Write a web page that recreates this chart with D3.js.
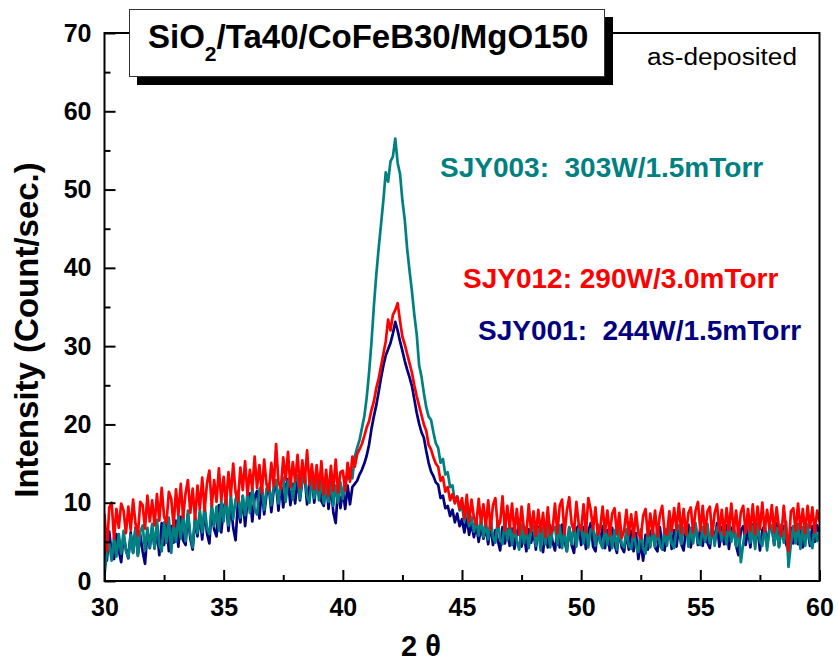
<!DOCTYPE html>
<html>
<head>
<meta charset="utf-8">
<script src="https://cdn.jsdelivr.net/npm/d3@7"></script>
<style>
  html, body { margin: 0; padding: 0; background: #fff; }
  svg { display: block; }
  text { font-family: "Liberation Sans", Arial, Helvetica, sans-serif; }
</style>
</head>
<body>
<svg id="chart" width="838" height="664"></svg>
<script>
// XRD scans, 2θ = 30°..60°, step 0.1°
const twoThetaStart = 30;
const twoThetaStep = 0.1;

// SJY001: 244W/1.5mTorr
const sjy001 = [
  5.6, 2.6, 6.3, 3.5, 2.8, 6.0, 3.9, 2.4, 5.8, 4.1,
  2.9, 6.2, 3.6, 6.8, 3.3, 5.9, 3.8, 2.2, 6.3, 4.2,
  7.0, 4.2, 6.5, 3.3, 7.4, 4.6, 7.9, 3.8, 7.0, 4.9,
  7.7, 4.4, 8.2, 5.2, 4.6, 8.5, 5.4, 4.0, 8.0, 5.7,
  8.5, 5.3, 9.1, 6.1, 4.8, 9.4, 6.6, 5.7, 9.7, 6.2,
  9.3, 10.4, 6.4, 9.9, 6.8, 5.2, 10.1, 7.5, 10.8, 7.0,
  10.3, 11.2, 7.6, 10.7, 11.5, 8.0, 11.9, 8.5, 11.1, 12.0,
  8.8, 11.6, 12.3, 9.0, 12.6, 9.4, 12.1, 13.0, 9.7, 12.4,
  9.9, 13.1, 10.3, 12.8, 13.4, 9.8, 12.6, 13.2, 10.0, 12.7,
  13.0, 10.2, 9.6, 12.9, 9.2, 12.5, 8.8, 7.4, 11.9, 9.3,
  11.6, 9.2, 12.2, 9.8, 12.0, 12.4, 12.8, 13.6, 14.2, 15.0,
  16.0, 17.4, 19.4, 21.0, 22.4, 24.1, 25.9, 27.5, 28.8, 29.6,
  30.4, 31.6, 33.1, 32.0, 30.6, 29.4, 28.1, 27.0, 26.0, 24.9,
  23.2, 21.5, 20.1, 19.0, 18.3, 16.6, 15.1, 14.0, 13.4, 12.6,
  12.3, 10.6, 10.9, 9.3, 9.6, 8.3, 9.1, 7.5, 8.6, 7.0,
  7.9, 6.2, 8.1, 5.9, 7.4, 5.6, 7.2, 5.0, 6.9, 5.4,
  6.8, 4.7, 7.3, 4.6, 6.5, 5.2, 3.9, 6.9, 4.8, 6.6,
  4.5, 6.7, 4.1, 6.2, 7.0, 4.4, 6.1, 3.8, 6.6, 4.9,
  6.3, 4.0, 6.9, 4.6, 3.7, 6.5, 4.3, 7.1, 5.0, 3.9,
  6.4, 4.3, 7.2, 5.1, 3.8, 6.8, 4.6, 3.6, 6.7, 7.1,
  4.6, 6.9, 4.1, 6.3, 7.4, 4.4, 3.8, 6.7, 4.9, 7.0,
  4.2, 6.5, 3.9, 6.8, 4.7, 3.6, 6.6, 4.3, 3.7, 6.2,
  4.0, 6.4, 3.8, 6.1, 2.8, 4.9, 2.6, 5.9, 4.0, 6.3,
  6.6, 4.3, 3.8, 6.9, 4.5, 3.9, 6.4, 7.0, 4.1, 6.5,
  4.4, 6.9, 4.7, 3.9, 6.7, 7.2, 4.3, 6.6, 7.1, 4.6,
  6.8, 4.5, 7.3, 4.9, 4.2, 7.0, 5.0, 7.4, 4.4, 6.9,
  4.7, 7.1, 4.1, 6.8, 6.9, 4.5, 3.3, 6.5, 7.0, 4.6,
  6.6, 4.3, 7.2, 4.8, 6.9, 3.9, 6.5, 7.1, 4.5, 6.7,
  6.9, 4.6, 7.4, 4.4, 6.7, 7.0, 4.7, 3.9, 6.8, 4.8,
  7.2, 4.7, 6.9, 4.3, 7.3, 6.7, 4.5, 7.0, 5.0, 7.1,
  6.2
];

// SJY003: 303W/1.5mTorr
const sjy003 = [
  0.8, 3.6, 4.8, 2.6, 5.6, 3.1, 6.0, 3.5, 6.4, 3.8,
  3.0, 5.9, 3.6, 6.7, 3.2, 6.3, 7.1, 3.9, 6.8, 4.3,
  7.3, 4.1, 7.8, 4.6, 3.8, 7.5, 4.9, 8.1, 3.6, 7.6,
  5.0, 8.3, 5.4, 8.7, 5.1, 9.0, 5.9, 4.3, 8.4, 6.1,
  9.1, 6.2, 9.7, 6.7, 6.0, 9.9, 7.0, 9.5, 6.4, 10.3,
  7.6, 10.6, 7.1, 11.1, 7.9, 10.4, 11.5, 8.1, 10.9, 8.4,
  11.3, 8.7, 11.9, 9.2, 8.5, 11.7, 12.2, 9.1, 11.8, 12.4,
  9.7, 12.1, 12.9, 9.9, 12.5, 13.2, 10.1, 12.7, 13.4, 10.4,
  12.8, 13.5, 10.5, 13.1, 13.8, 10.8, 10.0, 13.3, 10.6, 13.0,
  10.3, 13.2, 9.9, 12.5, 10.1, 12.9, 9.6, 12.2, 10.0, 12.6,
  10.5, 13.3, 13.0, 14.4, 13.1, 15.9, 17.0, 18.0, 19.5, 21.0,
  23.4, 26.6, 30.4, 35.0, 39.0, 42.4, 45.5, 48.6, 52.2, 51.0,
  53.6, 54.2, 56.5, 53.4, 52.0, 48.6, 46.1, 42.4, 39.6, 37.0,
  34.0, 31.5, 27.6, 26.1, 24.0, 22.2, 21.0, 20.6, 19.0, 17.6,
  17.0, 15.1, 15.6, 13.6, 13.9, 12.0, 12.2, 10.2, 10.8, 9.0,
  9.6, 7.6, 9.3, 7.0, 8.2, 6.3, 8.0, 5.8, 7.9, 5.6,
  7.6, 5.3, 8.1, 5.6, 4.9, 7.7, 5.4, 4.7, 7.8, 5.2,
  7.4, 4.6, 7.1, 5.1, 4.0, 7.2, 4.8, 6.9, 4.2, 6.6,
  7.0, 4.5, 6.7, 3.9, 6.8, 4.7, 7.2, 4.3, 6.5, 6.9,
  4.6, 7.1, 4.2, 6.6, 3.8, 6.9, 4.7, 7.3, 4.4, 6.7,
  7.0, 4.8, 7.4, 4.3, 6.6, 6.8, 4.5, 7.2, 4.9, 4.2,
  6.7, 4.6, 7.0, 4.2, 6.5, 4.0, 6.8, 4.7, 4.3, 6.6,
  4.5, 4.1, 6.4, 4.4, 3.7, 6.6, 4.2, 3.5, 6.3, 4.3,
  6.5, 4.4, 6.9, 4.6, 4.0, 6.7, 4.5, 7.0, 4.8, 4.2,
  6.6, 7.1, 4.7, 6.7, 7.2, 4.4, 6.8, 4.8, 7.4, 4.9,
  4.6, 6.9, 5.0, 7.3, 4.8, 7.0, 4.5, 6.8, 7.2, 5.1,
  7.1, 4.7, 7.5, 5.0, 6.9, 4.4, 7.2, 2.4, 4.8, 6.8,
  7.3, 4.9, 7.0, 4.1, 7.4, 5.1, 4.5, 6.9, 3.9, 6.6,
  7.1, 4.6, 6.8, 4.3, 7.2, 4.9, 7.6, 1.8, 4.7, 7.0,
  4.8, 7.3, 4.1, 6.9, 4.5, 7.2, 5.0, 4.2, 7.0, 5.1,
  6.3
];

// SJY012: 290W/3.0mTorr
const sjy012 = [
  8.6, 3.8, 9.4, 10.0, 5.4, 9.2, 6.8, 9.9, 9.0, 6.1,
  9.5, 6.5, 10.4, 7.3, 5.8, 10.1, 9.7, 6.7, 10.9, 7.6,
  10.3, 7.1, 11.1, 7.7, 11.9, 8.2, 7.4, 11.4, 10.5, 7.0,
  11.7, 8.4, 12.4, 8.1, 11.2, 12.9, 8.7, 11.8, 7.9, 12.2,
  9.2, 13.2, 9.0, 12.5, 14.1, 9.6, 12.9, 10.1, 14.4, 10.3,
  13.3, 9.8, 13.9, 10.9, 15.0, 11.3, 10.1, 14.5, 11.6, 15.3,
  11.0, 14.2, 11.7, 15.9, 11.9, 14.8, 11.2, 15.5, 12.3, 11.5,
  15.1, 12.1, 17.5, 12.6, 11.8, 15.8, 12.9, 16.5, 12.0, 15.2,
  12.7, 16.1, 11.9, 15.4, 12.5, 16.7, 12.2, 14.9, 11.7, 14.8,
  11.6, 15.3, 11.1, 14.2, 10.9, 14.7, 11.5, 15.5, 11.3, 13.9,
  14.1, 11.5, 15.1, 12.7, 15.9, 14.6, 16.2, 16.8, 17.5, 18.5,
  19.6, 20.4, 21.8, 22.9, 24.6, 25.8, 27.4, 29.0, 30.6, 33.4,
  32.0, 34.0, 34.6, 35.5, 33.2, 31.2, 30.2, 29.0, 27.8, 26.6,
  25.0, 23.6, 22.4, 21.2, 20.0, 19.2, 17.4, 16.8, 15.8, 15.0,
  14.6, 12.8, 13.3, 11.4, 12.0, 10.3, 11.1, 9.9, 10.8, 9.2,
  10.6, 8.0, 11.0, 7.6, 10.4, 8.1, 7.2, 10.5, 7.4, 9.8,
  7.0, 10.3, 6.6, 9.7, 10.6, 6.9, 7.5, 10.8, 6.4, 9.6,
  6.8, 9.9, 6.1, 9.2, 5.9, 9.5, 6.6, 6.0, 9.8, 6.3,
  8.9, 5.8, 9.1, 6.2, 8.7, 5.6, 9.4, 6.0, 6.5, 9.9,
  6.1, 9.6, 10.4, 6.0, 9.0, 10.7, 7.3, 6.4, 10.1, 7.2,
  6.5, 9.8, 6.2, 10.6, 9.1, 6.6, 9.4, 5.9, 6.8, 9.5,
  6.2, 9.0, 5.8, 8.6, 9.3, 6.0, 8.7, 5.5, 6.4, 9.1,
  5.9, 8.5, 5.6, 8.8, 6.1, 5.4, 8.3, 9.2, 5.8, 8.6,
  6.0, 9.0, 5.7, 8.4, 9.6, 6.2, 5.9, 8.9, 6.3, 9.3,
  6.6, 9.9, 6.1, 9.2, 5.9, 8.7, 9.4, 6.2, 9.0, 10.1,
  6.4, 9.6, 6.0, 8.9, 9.5, 5.8, 8.7, 9.8, 6.3, 9.1,
  5.9, 9.3, 6.5, 9.9, 6.2, 9.0, 5.7, 8.8, 9.6, 6.1,
  9.2, 6.4, 9.8, 6.0, 9.5, 6.6, 10.0, 6.3, 9.1, 6.7,
  9.7, 6.2, 9.4, 6.8, 5.8, 9.6, 6.5, 3.8, 8.9, 9.3,
  6.4, 9.9, 6.6, 9.2, 6.1, 9.6, 6.8, 9.4, 6.2, 9.0,
  7.6
];

// drawing order: first drawn sits underneath
const seriesList = [
  { name: "SJY001", values: sjy001, color: "#000080" },
  { name: "SJY003", values: sjy003, color: "#008080" },
  { name: "SJY012", values: sjy012, color: "#ff0000" }
];

const legendLabels = [
  { text: "SJY003:  303W/1.5mTorr", color: "#008080", x: 440, y: 177 },
  { text: "SJY012: 290W/3.0mTorr", color: "#ff0000", x: 463, y: 288 },
  { text: "SJY001:  244W/1.5mTorr", color: "#000080", x: 478, y: 340 }
];

const xMajorTicks = [30, 35, 40, 45, 50, 55, 60];
const xMinorTicks = [32.5, 37.5, 42.5, 47.5, 52.5, 57.5];
const yMajorTicks = [0, 10, 20, 30, 40, 50, 60, 70];
const yMinorTicks = [5, 15, 25, 35, 45, 55, 65];

const svg = d3.select("#chart");
const plotLeft = 104.5, plotRight = 819.5, plotTop = 33, plotBottom = 581;

const x = d3.scaleLinear().domain([30, 60]).range([plotLeft, plotRight]);
const y = d3.scaleLinear().domain([0, 70]).range([plotBottom, plotTop]);

// data curves
const line = d3.line()
  .x((d, i) => x(twoThetaStart + i * twoThetaStep))
  .y(d => y(d));

svg.append("defs").append("clipPath").attr("id", "plotClip")
  .append("rect").attr("x", plotLeft).attr("y", plotTop)
  .attr("width", plotRight - plotLeft).attr("height", plotBottom - plotTop);

const curves = svg.append("g").attr("clip-path", "url(#plotClip)");
seriesList.forEach(s => {
  curves.append("path")
    .datum(s.values)
    .attr("fill", "none")
    .attr("stroke", s.color)
    .attr("stroke-width", 2.7)
    .attr("stroke-linejoin", "round")
    .attr("d", line);
});

// axes with inward ticks
const xAxis = svg.append("g").attr("transform", `translate(0,${plotBottom})`)
  .call(d3.axisBottom(x).tickValues(xMajorTicks).tickSize(-11).tickPadding(17)
    .tickFormat(d3.format("d")));
const xMinor = svg.append("g").attr("transform", `translate(0,${plotBottom})`)
  .call(d3.axisBottom(x).tickValues(xMinorTicks).tickSize(-6).tickFormat(""));
const yAxis = svg.append("g").attr("transform", `translate(${plotLeft},0)`)
  .call(d3.axisLeft(y).tickValues(yMajorTicks).tickSize(-11).tickPadding(13)
    .tickFormat(d3.format("d")));
const yMinor = svg.append("g").attr("transform", `translate(${plotLeft},0)`)
  .call(d3.axisLeft(y).tickValues(yMinorTicks).tickSize(-6).tickFormat(""));

[xAxis, xMinor, yAxis, yMinor].forEach(g => {
  g.select(".domain").remove();
  g.selectAll(".tick line").attr("stroke", "#000").attr("stroke-width", 2);
});
xAxis.selectAll(".tick text")
  .attr("font-size", 25).attr("font-weight", "bold").attr("fill", "#000")
  .attr("font-family", "Liberation Sans, Arial, sans-serif");
yAxis.selectAll(".tick text")
  .attr("font-size", 25).attr("font-weight", "bold").attr("fill", "#000")
  .attr("font-family", "Liberation Sans, Arial, sans-serif");

// frame around the plot
svg.append("rect")
  .attr("x", plotLeft).attr("y", plotTop)
  .attr("width", plotRight - plotLeft).attr("height", plotBottom - plotTop)
  .attr("fill", "none").attr("stroke", "#000").attr("stroke-width", 2);

// axis titles
svg.append("text")
  .attr("transform", `translate(38,330) rotate(-90)`)
  .attr("text-anchor", "middle")
  .attr("font-size", 33).attr("font-weight", "bold")
  .text("Intensity (Count/sec.)");

svg.append("text")
  .attr("x", 421).attr("y", 656)
  .attr("text-anchor", "middle")
  .attr("font-size", 29).attr("font-weight", "bold")
  .style("white-space", "pre")
  .text("2 θ");

// title box with drop shadow
svg.append("rect")
  .attr("x", 137).attr("y", 17).attr("width", 476).attr("height", 68)
  .attr("fill", "#000");
svg.append("rect")
  .attr("x", 129.5).attr("y", 9.5).attr("width", 475).attr("height", 67)
  .attr("fill", "#fff").attr("stroke", "#333").attr("stroke-width", 1);

const title = svg.append("text")
  .attr("x", 148).attr("y", 48)
  .attr("font-size", 33).attr("font-weight", "bold");
title.append("tspan").text("SiO");
title.append("tspan").attr("font-size", 21).attr("dy", 13).text("2");
title.append("tspan").attr("dy", -13).text("/Ta40/CoFeB30/MgO150");

svg.append("text")
  .attr("x", 647).attr("y", 65)
  .attr("font-size", 23)
  .attr("textLength", 150).attr("lengthAdjust", "spacingAndGlyphs")
  .text("as-deposited");

// sample labels
legendLabels.forEach(l => {
  svg.append("text")
    .attr("x", l.x).attr("y", l.y)
    .attr("font-size", 28).attr("font-weight", "bold")
    .attr("fill", l.color)
    .style("white-space", "pre")
    .text(l.text);
});
</script>
</body>
</html>
